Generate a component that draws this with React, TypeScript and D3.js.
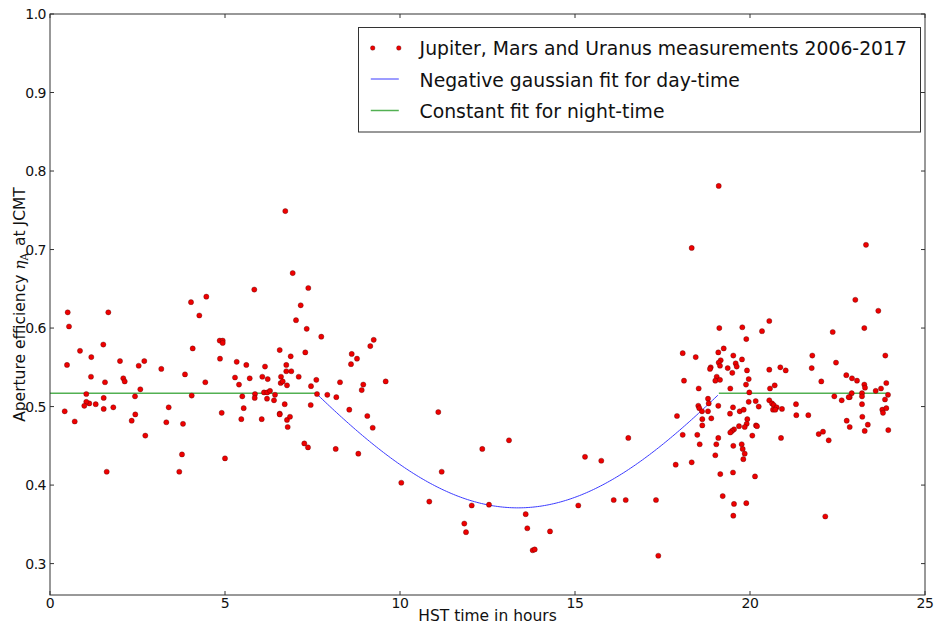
import React from "react";
import * as d3 from "d3";

// measurements: [HST hour, aperture efficiency]
const measurements: [number, number][] = [
  [0.506, 0.62], [1.666, 0.62], [0.543, 0.602], [0.857, 0.571], [0.486, 0.553],
  [1.523, 0.579], [1.18, 0.563], [1.171, 0.538], [1.571, 0.531], [1.037, 0.516],
  [1.534, 0.511], [1.809, 0.499], [1.534, 0.497], [1.306, 0.503], [1.123, 0.504],
  [1.037, 0.506], [0.98, 0.501], [0.42, 0.494], [0.706, 0.481], [1.62, 0.417],
  [2.0, 0.558], [2.094, 0.536], [2.134, 0.532], [2.534, 0.552], [2.58, 0.522],
  [2.429, 0.513], [2.437, 0.49], [2.334, 0.482], [2.694, 0.558], [2.723, 0.463],
  [3.18, 0.548], [3.391, 0.499], [3.323, 0.48], [4.029, 0.633], [4.266, 0.616],
  [4.077, 0.574], [3.857, 0.541], [4.049, 0.514], [3.8, 0.478], [3.771, 0.439],
  [3.694, 0.417], [4.437, 0.531], [4.849, 0.584], [4.934, 0.584], [4.934, 0.581],
  [4.857, 0.561], [4.906, 0.492], [5.0, 0.434], [5.286, 0.537], [5.334, 0.557],
  [5.4, 0.528], [5.494, 0.513], [5.534, 0.498], [5.466, 0.484], [5.609, 0.553],
  [5.706, 0.536], [5.857, 0.516], [5.849, 0.511], [6.049, 0.484], [6.066, 0.538],
  [6.143, 0.551], [6.22, 0.535], [6.114, 0.518], [6.209, 0.518], [6.286, 0.52],
  [6.2, 0.51], [6.4, 0.508], [6.429, 0.515], [6.563, 0.572], [6.6, 0.538],
  [6.591, 0.53], [6.649, 0.532], [6.563, 0.491], [6.563, 0.49], [6.706, 0.503],
  [6.751, 0.553], [6.751, 0.545], [6.771, 0.527], [6.771, 0.483], [6.791, 0.474],
  [6.857, 0.487], [6.877, 0.564], [6.894, 0.545], [7.029, 0.61], [7.163, 0.629],
  [7.334, 0.599], [7.294, 0.569], [7.106, 0.538], [7.457, 0.526], [7.449, 0.502],
  [7.609, 0.534], [7.266, 0.453], [7.371, 0.448], [7.751, 0.589], [7.923, 0.515],
  [8.163, 0.446], [8.18, 0.512], [8.286, 0.531], [8.551, 0.496], [8.62, 0.567],
  [8.6, 0.554], [8.771, 0.561], [8.809, 0.44], [7.629, 0.516], [4.466, 0.64],
  [5.837, 0.649], [6.723, 0.749], [6.934, 0.67], [7.38, 0.651], [9.249, 0.585],
  [9.151, 0.577], [8.951, 0.528], [9.591, 0.532], [8.906, 0.521], [9.066, 0.488],
  [9.22, 0.473],
  [11.094, 0.493], [11.191, 0.417], [10.037, 0.403], [10.837, 0.379], [12.351, 0.446],
  [13.114, 0.457], [12.049, 0.374], [12.543, 0.375], [11.837, 0.351], [11.886, 0.34],
  [13.591, 0.363], [13.637, 0.345], [13.791, 0.317], [13.849, 0.318], [14.286, 0.341],
  [15.094, 0.374], [15.286, 0.436], [15.751, 0.431], [16.106, 0.381], [16.449, 0.381],
  [16.523, 0.46], [17.314, 0.381], [17.38, 0.31],
  [18.114, 0.533], [18.534, 0.523], [18.523, 0.501], [18.551, 0.498], [17.914, 0.488],
  [18.077, 0.464], [18.494, 0.464], [18.563, 0.452], [17.877, 0.426], [18.334, 0.429],
  [19.106, 0.781], [18.334, 0.702], [19.123, 0.6], [19.78, 0.601], [20.551, 0.609],
  [20.343, 0.596], [19.894, 0.586], [18.077, 0.568], [18.449, 0.563], [19.249, 0.574],
  [19.094, 0.569], [19.163, 0.559], [19.106, 0.556], [19.143, 0.552], [19.523, 0.565],
  [19.771, 0.56], [19.591, 0.555], [19.62, 0.551], [18.877, 0.55], [18.857, 0.548],
  [19.363, 0.549], [19.494, 0.543], [19.914, 0.546], [19.049, 0.538], [19.009, 0.533],
  [19.143, 0.534], [19.963, 0.535], [19.886, 0.528], [20.551, 0.547], [20.866, 0.55],
  [21.02, 0.546], [20.706, 0.527], [20.571, 0.523], [19.437, 0.523], [19.98, 0.518],
  [18.8, 0.51], [19.963, 0.506], [20.163, 0.507], [20.249, 0.5], [20.551, 0.508],
  [20.629, 0.504], [20.677, 0.502], [20.763, 0.499], [20.657, 0.496], [20.723, 0.496],
  [20.914, 0.497], [21.314, 0.503], [21.323, 0.489], [21.666, 0.489], [18.629, 0.494],
  [18.82, 0.504], [18.8, 0.494], [19.094, 0.501], [19.514, 0.499], [19.706, 0.494],
  [19.82, 0.496], [19.429, 0.491], [18.637, 0.484], [18.894, 0.485], [19.923, 0.484],
  [19.906, 0.478], [19.686, 0.475], [19.849, 0.474], [20.171, 0.476], [20.2, 0.475],
  [18.637, 0.476], [19.543, 0.471], [19.486, 0.469], [19.437, 0.467], [20.066, 0.463],
  [20.886, 0.46], [19.094, 0.46], [19.037, 0.452], [19.523, 0.45], [19.763, 0.452],
  [19.791, 0.446], [19.849, 0.44], [19.009, 0.438], [19.809, 0.433], [19.151, 0.414],
  [19.514, 0.416], [20.143, 0.411], [19.22, 0.386], [19.543, 0.376], [19.894, 0.377],
  [19.523, 0.361],
  [23.314, 0.706], [23.009, 0.636], [23.666, 0.622], [22.363, 0.595], [23.266, 0.6],
  [21.78, 0.565], [23.866, 0.565], [21.763, 0.549], [22.457, 0.556], [22.037, 0.532],
  [22.751, 0.54], [22.914, 0.536], [23.057, 0.533], [23.266, 0.528], [23.286, 0.524],
  [23.894, 0.53], [23.743, 0.523], [23.591, 0.52], [22.906, 0.517], [22.849, 0.512],
  [22.82, 0.512], [23.2, 0.517], [23.2, 0.513], [22.409, 0.513], [22.62, 0.508],
  [23.943, 0.515], [23.857, 0.509], [23.2, 0.503], [23.78, 0.496], [23.8, 0.492],
  [23.894, 0.498], [23.209, 0.487], [22.763, 0.482], [22.849, 0.474], [23.366, 0.477],
  [23.277, 0.469], [23.951, 0.47], [21.963, 0.465], [22.086, 0.468], [22.249, 0.457],
  [22.151, 0.36],
];

// fits
const gaussParams = { base: 0.9, depth: 0.529, center: 13.37, sigma: 7.18 };
const dayRange = [7.63, 19.11];
const nightLevel = 0.517;
const nightRanges = [[0, 7.63], [19.11, 23.95]];

const xTicks = [0, 5, 10, 15, 20, 25];
const yTicks = [0.3, 0.4, 0.5, 0.6, 0.7, 0.8, 0.9, 1.0];
const legendLabels = [
  "Jupiter, Mars and Uranus measurements 2006-2017",
  "Negative gaussian fit for day-time",
  "Constant fit for night-time",
];

const W = 937;
const H = 625;
const m = { left: 50, top: 14, right: 925, bottom: 595 };
const font = "'DejaVu Sans', sans-serif";
const dotFill = "#ee0000";
const dotStroke = "rgba(60,0,0,0.65)";
const blue = "#3a3aff";
const green = "#52b052";

export default function App() {
  const x = d3.scaleLinear().domain([0, 25]).range([m.left, m.right]);
  const y = d3.scaleLinear().domain([0.26, 1.0]).range([m.bottom, m.top]);

  const gauss = (t: number) =>
    gaussParams.base -
    gaussParams.depth *
      Math.exp(-((t - gaussParams.center) ** 2) / (2 * gaussParams.sigma ** 2));
  const gx = d3.range(dayRange[0], dayRange[1] + 1e-9, 0.05);
  const gaussLine = d3
    .line<number>()
    .x((t) => x(t))
    .y((t) => y(gauss(t)))(gx);

  const tick = 4;

  return (
    <div style={{ position: "absolute", left: 0, top: 0 }}>
      <svg width={W} height={H} style={{ display: "block", background: "#fff" }} fontFamily={font}>
        {nightRanges.map((r, i) => (
          <line key={i} x1={x(r[0])} x2={x(r[1])} y1={y(nightLevel)} y2={y(nightLevel)}
            stroke={green} strokeWidth={1.5} />
        ))}
        <path d={gaussLine || ""} fill="none" stroke={blue} strokeWidth={1} />
        {measurements.map((d, i) => (
          <circle key={i} cx={x(d[0])} cy={y(d[1])} r={2.6} fill={dotFill}
            stroke={dotStroke} strokeWidth={0.5} />
        ))}

        {/* frame */}
        <rect x={m.left} y={m.top} width={m.right - m.left} height={m.bottom - m.top}
          fill="none" stroke="#333" strokeWidth={1} />

        {xTicks.map((t) => (
          <g key={t}>
            <line x1={x(t)} x2={x(t)} y1={m.bottom} y2={m.bottom - tick} stroke="#333" />
            <line x1={x(t)} x2={x(t)} y1={m.top} y2={m.top + tick} stroke="#333" />
            <text x={x(t)} y={m.bottom + 13} fontSize={14} letterSpacing={-0.5}
              textAnchor="middle" fill="#111">
              {t}
            </text>
          </g>
        ))}
        {yTicks.map((t) => (
          <g key={t}>
            <line x1={m.left} x2={m.left + tick} y1={y(t)} y2={y(t)} stroke="#333" />
            <line x1={m.right} x2={m.right - tick} y1={y(t)} y2={y(t)} stroke="#333" />
            <text x={m.left - 4} y={y(t) + 5} fontSize={14} letterSpacing={-0.5}
              textAnchor="end" fill="#111">
              {t.toFixed(1)}
            </text>
          </g>
        ))}

        <text x={(m.left + m.right) / 2} y={620.5} fontSize={15.5} textAnchor="middle" fill="#111">
          HST time in hours
        </text>
        <text transform={`translate(24.5,${(m.top + m.bottom) / 2}) rotate(-90)`}
          fontSize={15.5} textAnchor="middle" fill="#111">
          {"Aperture efficiency\u00a0"}
          <tspan fontFamily="'DejaVu Serif', serif" fontStyle="italic">η</tspan>
          <tspan fontFamily="'DejaVu Serif', serif" fontSize={10.5} dy={3}>A</tspan>
          <tspan dy={-3} dx={2}>{"\u00a0at JCMT"}</tspan>
        </text>

        {/* legend */}
        <rect x={358.5} y={27.5} width={562} height={104.5} fill="#fff" stroke="#333" strokeWidth={1} />
        <circle cx={372.7} cy={48} r={2.3} fill={dotFill} stroke={dotStroke} strokeWidth={0.5} />
        <circle cx={398.8} cy={48} r={2.3} fill={dotFill} stroke={dotStroke} strokeWidth={0.5} />
        <line x1={370.8} x2={398.8} y1={79} y2={79} stroke={blue} strokeWidth={1} />
        <line x1={370.8} x2={398.8} y1={110.5} y2={110.5} stroke={green} strokeWidth={1.5} />
        {legendLabels.map((l, i) => (
          <text key={l} x={419.6} y={55 + i * 31.5} fontSize={18.8} fill="#111">
            {l}
          </text>
        ))}
      </svg>
    </div>
  );
}
